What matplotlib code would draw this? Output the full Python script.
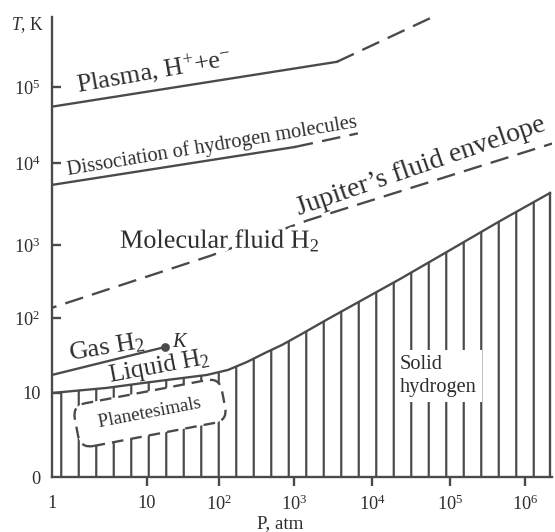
import numpy as np
import matplotlib
matplotlib.use('Agg')
import matplotlib.pyplot as plt
import matplotlib.patheffects as pe

plt.rcParams['font.family'] = ['Liberation Serif', 'DejaVu Serif']
plt.rcParams['mathtext.fontset'] = 'custom'
plt.rcParams['mathtext.rm'] = 'Liberation Serif'
plt.rcParams['mathtext.it'] = 'Liberation Serif:italic'
plt.rcParams['hatch.linewidth'] = 1.5

LINE = '#4a4a4a'
TEXT = '#2e2e2e'

# melting curve: solid hydrogen lies below it
melt_p = [1, 3.8, 10, 68, 132, 236, 411, 692, 1190, 2730, 22900, 1e5, 4.6e5, 2.15e6]
melt_t = [10, 11.7, 13.8, 17.4, 20.3, 25.9, 34.2, 43.7, 59.3, 97, 342, 850, 1950, 4300]

# gas / liquid boundary ending at the critical point K
gas_p = [1, 17.8]
gas_t = [17.4, 41]

# Jupiter's fluid envelope (dashed)
jup_p = [1, 75, 1510, 2.3e6]
jup_t = [138, 708, 2000, 18000]

# dissociation of hydrogen molecules
diss_p = [1, 1020]
diss_t = [5400, 16200]
diss_ext_p = [1020, 6600]
diss_ext_t = [16200, 24500]

# ionisation (plasma)
plasma_p = [1, 3550]
plasma_t = [55000, 214000]
plasma_ext_p = [3550, 60000]
plasma_ext_t = [214000, 832000]

x_ticks = [1, 10, 1e2, 1e3, 1e4, 1e5, 1e6]
x_labels = ['1', '10', '$10^2$', '$10^3$', '$10^4$', '$10^5$', '$10^6$']
y_ticks = [1, 10, 1e2, 1e3, 1e4, 1e5]
y_labels = ['0', '10', '$10^2$', '$10^3$', '$10^4$', '$10^5$']

# the hand drawn axes are not evenly spaced per decade
X_DEC = [-1, 0, 1, 2, 3, 4, 5, 6, 7]
X_STRETCH = [-43, 52, 147, 219, 294, 372, 450, 525, 600]
Y_DEC = [-1, 0, 1, 2, 3, 4, 5, 6, 7]
Y_STRETCH = [-84, 0, 84, 159, 232, 314, 390, 466, 542]


def make_scale(dec, stretch):
    def fwd(v):
        v = np.clip(np.asarray(v, dtype=float), 1e-12, None)
        return np.interp(np.log10(v), dec, stretch)

    def inv(v):
        return 10 ** np.interp(np.asarray(v, dtype=float), stretch, dec)
    return fwd, inv


fig = plt.figure(figsize=(555 / 105, 532 / 105), dpi=105)
ax = fig.add_axes([52 / 555, 55 / 532, 500 / 555, 460 / 532])
ax.set_xscale('function', functions=make_scale(X_DEC, X_STRETCH))
ax.set_yscale('function', functions=make_scale(Y_DEC, Y_STRETCH))
ax.set_xlim(1, 10 ** 6.36)
ax.set_ylim(1, 10 ** 5.92)

# hatched solid phase
ax.fill_between(melt_p, melt_t, 1, facecolor='none', edgecolor=LINE,
                hatch='|', linewidth=0, zorder=1)
ax.plot(melt_p, melt_t, color=LINE, lw=1.6, zorder=3)
ax.plot([melt_p[-1], melt_p[-1]], [1, melt_t[-1]], color=LINE, lw=1.6, zorder=3)

dash = (0, (8, 4))
ax.plot(gas_p, gas_t, color=LINE, lw=1.6, zorder=3)
ax.plot(gas_p[-1], gas_t[-1], 'o', color=LINE, ms=5, zorder=3)
ax.plot(jup_p, jup_t, color=LINE, lw=1.6, ls=(6, (8, 4)), zorder=3)
ax.plot(diss_p, diss_t, color=LINE, lw=1.6, zorder=3)
ax.plot(diss_ext_p, diss_ext_t, color=LINE, lw=1.6, ls=dash, zorder=3)
ax.plot(plasma_p, plasma_t, color=LINE, lw=1.6, zorder=3)
ax.plot(plasma_ext_p, plasma_ext_t, color=LINE, lw=1.6, ls=dash, zorder=3,
        clip_on=False)

# axes styling
for side in ['top', 'right']:
    ax.spines[side].set_visible(False)
for side in ['left', 'bottom']:
    ax.spines[side].set_color(LINE)
    ax.spines[side].set_linewidth(1.6)

ax.set_xticks(x_ticks, x_labels)
ax.set_yticks(y_ticks, y_labels)
ax.minorticks_off()
ax.tick_params(axis='x', direction='out', length=6, width=1.6, pad=6,
               labelsize=12.5, color=LINE, labelcolor=TEXT)
ax.tick_params(axis='y', direction='in', length=6, width=1.6, pad=8,
               labelsize=12.5, color=LINE, labelcolor=TEXT)
ax.xaxis.get_major_ticks()[0].tick1line.set_visible(False)
ax.yaxis.get_major_ticks()[0].tick1line.set_visible(False)

ax.text(-0.05, 0.983, '$T$, K', transform=ax.transAxes, ha='center',
        va='center', fontsize=12, color=TEXT)
ax.text(0.456, -0.102, 'P, atm', transform=ax.transAxes, ha='center',
        va='center', fontsize=13, color=TEXT)

# region labels
lbl = dict(transform=ax.transAxes, ha='left', va='baseline',
           rotation_mode='anchor', color=TEXT, zorder=4)
knock = [pe.withStroke(linewidth=5, foreground='white')]
ax.text(0.052, 0.835, 'Plasma, H$^{+}$+e$^{-}$', fontsize=18, rotation=10, **lbl)
ax.text(0.032, 0.657, 'Dissociation of hydrogen molecules', fontsize=14,
        rotation=9.4, **lbl)
ax.text(0.136, 0.498, 'Molecular fluid H$_2$', fontsize=18,
        path_effects=knock, **lbl)
ax.text(0.495, 0.5696, 'Jupiter\u2019s fluid envelope', fontsize=19,
        rotation=19, **lbl)
ax.text(0.036, 0.254, 'Gas H$_2$', fontsize=18, rotation=9.5, **lbl)
ax.text(0.116, 0.2065, 'Liquid H$_2$', fontsize=17.5, rotation=10.5, **lbl)
ax.text(0.24, 0.283, '$K$', fontsize=14, **lbl)

ax.text(0.196, 0.139, '  Planetesimals  ', transform=ax.transAxes, ha='center',
        va='center', rotation=10.8, fontsize=13, color=TEXT, zorder=4,
        bbox=dict(boxstyle='round,pad=0.7', fc='white', ec=LINE, lw=1.6,
                  ls=(0, (5, 3))))
ax.text(0.696, 0.265, 'Solid\nhydrogen', transform=ax.transAxes, ha='left',
        va='top', fontsize=14, color=TEXT, zorder=4, linespacing=1.25,
        bbox=dict(boxstyle='square,pad=0.25', fc='white', ec='none'))

fig.savefig('out.png', dpi=105)
